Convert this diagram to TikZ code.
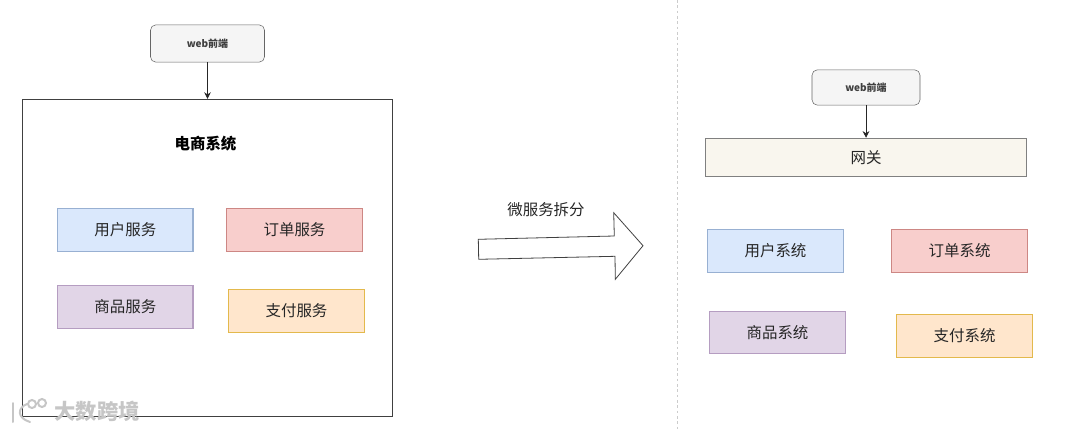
\documentclass[tikz,border=0pt]{standalone}
\usepackage{fontspec}
\usepackage{tikz}
\usetikzlibrary{arrows.meta, positioning}
\setmainfont{Noto Sans CJK SC}
\definecolor{webfill}{RGB}{245,245,245}
\definecolor{webline}{RGB}{102,102,102}
\definecolor{userfill}{RGB}{218,232,252}
\definecolor{userline}{RGB}{108,142,191}
\definecolor{orderfill}{RGB}{248,206,204}
\definecolor{orderline}{RGB}{184,84,80}
\definecolor{goodsfill}{RGB}{225,213,231}
\definecolor{goodsline}{RGB}{150,115,166}
\definecolor{payfill}{RGB}{255,230,204}
\definecolor{payline}{RGB}{215,155,0}
\definecolor{gatefill}{RGB}{249,246,238}

\begin{document}
\begin{tikzpicture}[
		x=0.75pt, y=-0.75pt,
		node distance=25pt and 25pt,
		web/.style={draw=webline, rounded corners=4pt, fill=webfill, align=center, inner sep=0pt, text=black!75, font=\fontsize{7.5}{9}\selectfont\bfseries},
		svc/.style={draw, thick, align=center, inner sep=0pt, minimum width=101.5pt, minimum height=32pt, text=black!85, font=\fontsize{11.6}{14}\selectfont},
		user/.style={svc, fill=userfill, draw=userline!70},
		order/.style={svc, fill=orderfill, draw=orderline!70},
		goods/.style={svc, fill=goodsfill, draw=goodsline!70},
		pay/.style={svc, fill=payfill, draw=payline!70},
		arr/.style={-{Stealth[length=5pt,width=5pt]}, semithick, black!85},
		wmline/.style={gray!45, line width=1.5pt, line cap=round}
		]
		\useasboundingbox (0,0) rectangle (1080,431);
		
		% left side
		\node[web, minimum width=85.5pt, minimum height=28pt] (web1) at (207.5,43.5) {web前端};
		\node[draw=black!75, semithick, minimum width=278pt, minimum height=238pt, inner sep=0pt] (shop) at (207.5,258) {};
		\node[font=\fontsize{11.6}{14}\selectfont\bfseries, inner sep=0pt] (shoptitle) at (205.5,143.5) {电商系统};
		\node[user] (user1) at (125.3,230) {用户服务};
		\node[order, right=24.6pt of user1] (order1) {订单服务};
		\node[goods, below=25pt of user1] (goods1) {商品服务};
		\node[pay, below=26pt of order1, xshift=1.5pt, yshift=-1.75pt] (pay1) {支付服务};
		
		\draw[arr] (web1) -- (shop);
		
		% split arrow
		\draw[black!75, semithick, fill=white] (478.3,239.3) -- (614.3,236) -- (613.7,212.7) -- (643,245.7) -- (615.3,279.3) -- (615,256.3) -- (478.7,259.3) -- cycle;
		\node[font=\fontsize{11.6}{14}\selectfont, text=black!85, inner sep=0pt] (splitlabel) at (546,210) {微服务拆分};
		\draw[black!20, dash pattern=on 2pt off 2pt] (677,0) -- (677,431);
		
		% right side
		\node[web, minimum width=81pt, minimum height=26.5pt] (web2) at (866,87.5) {web前端};
		\node[svc, semithick, fill=gatefill, draw=black!50, minimum width=241pt, minimum height=29pt] (gate) at (866,157.5) {网关};
		\node[user] (user2) at (775.5,251) {用户系统};
		\node[order, right=35.75pt of user2] (order2) {订单系统};
		\node[goods, below=28.25pt of user2, xshift=1.5pt] (goods2) {商品系统};
		\node[pay, below=31pt of order2, xshift=3.75pt] (pay2) {支付系统};
		
		\draw[arr] (web2) -- (gate);
		
		% watermark
		\node[text=gray!45, font=\fontsize{16}{18}\selectfont\bfseries, inner sep=0pt] (wmtext) at (97,411) {大数跨境};
		\draw[wmline] (13,403) -- (13,422);
		\draw[wmline] (27,404) .. controls (17,408) and (17,418) .. (30,422);
		\draw[wmline] (32,404) circle (4);
		\draw[wmline] (42,403) circle (4);
	\end{tikzpicture}
\end{document}
